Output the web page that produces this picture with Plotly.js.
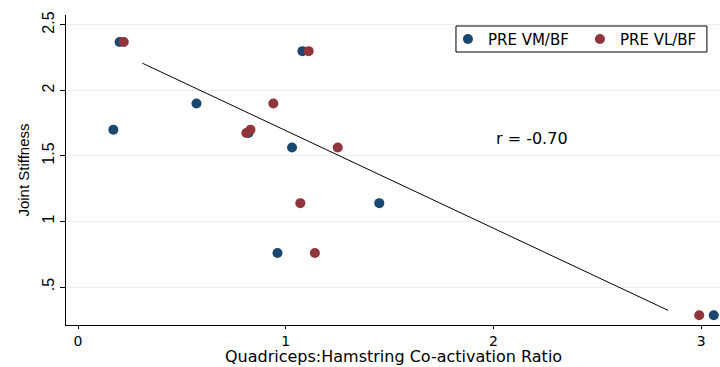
<!DOCTYPE html>
<html><head><meta charset="utf-8">
<script src="https://cdn.plot.ly/plotly-3.0.1.min.js"></script>
<style>html,body{margin:0;padding:0;background:#fff}#c{width:720px;height:367px}</style>
</head><body><div id="c"></div>
<script>
const vmX = [0.20, 0.17, 0.57, 0.82, 1.03, 1.08, 1.45, 0.96, 3.06];
const vmY = [2.37, 1.70, 1.90, 1.675, 1.565, 2.30, 1.14, 0.76, 0.285];
const vlX = [0.22, 1.11, 0.94, 0.81, 0.83, 1.25, 1.07, 1.14, 2.99];
const vlY = [2.37, 2.30, 1.90, 1.675, 1.70, 1.565, 1.14, 0.76, 0.285];
const fitX = [0.31, 2.84];
const fitY = [2.208, 0.322];
const yTicks = [0.5, 1, 1.5, 2, 2.5];
const yTickText = [".5", "1", "1.5", "2", "2.5"];
const xTicks = [0, 1, 2, 3];
const rText = "r = -0.70";
const xTitle = "Quadriceps:Hamstring Co-activation Ratio";
const yTitle = "Joint Stiffness";

const wide = "DejaVu Sans, Verdana, sans-serif";
const narrow = "Liberation Sans, Arial, sans-serif";
const traces = [
  {x: fitX, y: fitY, mode: "lines", line: {color: "#000", width: 1}, showlegend: false, hoverinfo: "skip"},
  {x: vmX, y: vmY, mode: "markers", name: "PRE VM/BF", marker: {color: "#1a476f", size: 10}, cliponaxis: false},
  {x: vlX, y: vlY, mode: "markers", name: "PRE VL/BF", marker: {color: "#90353b", size: 10}, cliponaxis: false}
];
const layout = {
  width: 720, height: 367,
  margin: {l: 66, r: 0, t: 15, b: 42, autoexpand: false},
  paper_bgcolor: "#fff", plot_bgcolor: "#fff",
  font: {family: wide, size: 15, color: "#000"},
  xaxis: {
    range: [-0.058, 3.09], tickvals: xTicks, ticks: "outside", ticklen: 3, tickcolor: "#000",
    showgrid: false, zeroline: false, showline: true, linecolor: "#000", linewidth: 1,
    tickfont: {family: wide, size: 14}
  },
  yaxis: {
    range: [0.21, 2.576], tickvals: yTicks, ticktext: yTickText, ticks: "outside", ticklen: 5, tickcolor: "#000",
    tickangle: -90, showgrid: true, gridcolor: "#e8f0f2", gridwidth: 1, zeroline: false,
    showline: true, linecolor: "#000", linewidth: 1,
    tickfont: {family: narrow, size: 16}, title: {text: yTitle, font: {family: narrow, size: 15}, standoff: 6}
  },
  legend: {
    orientation: "h", x: 0.584, y: 0.975, xanchor: "left", yanchor: "top",
    borderwidth: 0, bgcolor: "rgba(0,0,0,0)", font: {family: wide, size: 15},
    entrywidth: 87, itemwidth: 30
  },
  shapes: [{type: "rect", xref: "paper", yref: "paper", x0: 0.5963, x1: 0.980, y0: 0.8806, y1: 0.9645,
            line: {color: "#000", width: 1}, fillcolor: "rgba(0,0,0,0)", layer: "below"}],
  annotations: [
    {x: 2.186, y: 1.63, xref: "x", yref: "y", text: rText, showarrow: false, font: {family: wide, size: 16}},
    {x: 0.5, y: -0.103, xref: "paper", yref: "paper", yanchor: "middle", text: xTitle, showarrow: false,
     font: {family: wide, size: 16}}
  ]
};
Plotly.newPlot("c", traces, layout, {displayModeBar: false, staticPlot: true});
</script></body></html>
